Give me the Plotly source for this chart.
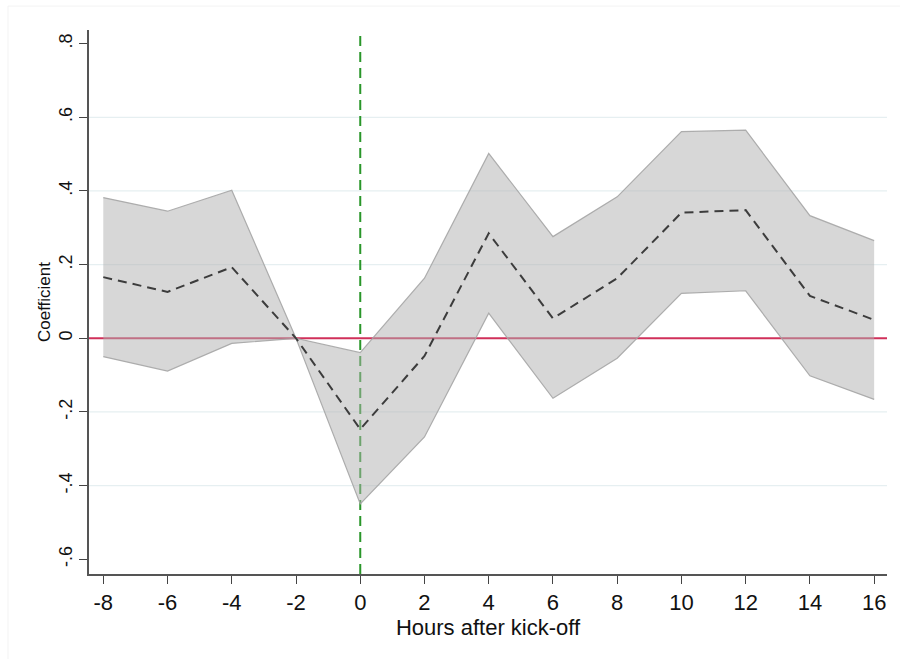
import plotly.graph_objects as go

hours = [-8, -6, -4, -2, 0, 2, 4, 6, 8, 10, 12, 14, 16]
coef = [0.166, 0.126, 0.193, 0.0, -0.247, -0.048, 0.285, 0.054, 0.163, 0.341, 0.348, 0.115, 0.050]
upper = [0.382, 0.345, 0.402, 0.0, -0.039, 0.163, 0.502, 0.276, 0.384, 0.561, 0.565, 0.333, 0.265]
lower = [-0.050, -0.089, -0.014, 0.0, -0.450, -0.268, 0.068, -0.163, -0.054, 0.122, 0.129, -0.102, -0.166]

x_ticks = [-8, -6, -4, -2, 0, 2, 4, 6, 8, 10, 12, 14, 16]
x_ticktext = ["-8", "-6", "-4", "-2", "0", "2", "4", "6", "8", "10", "12", "14", "16"]
y_ticks = [-0.6, -0.4, -0.2, 0, 0.2, 0.4, 0.6, 0.8]
y_ticktext = ["-.6", "-.4", "-.2", "0", ".2", ".4", ".6", ".8"]
grid_vals = [-0.4, -0.2, 0.2, 0.4, 0.6]

narrow = "Liberation Sans Narrow, Arial Narrow, Liberation Sans, sans-serif"

fig = go.Figure()

fig.add_trace(go.Scatter(x=hours, y=upper, mode="lines",
                         line=dict(color="rgba(165,165,165,0.9)", width=1.2),
                         showlegend=False, hoverinfo="skip"))
fig.add_trace(go.Scatter(x=hours, y=lower, mode="lines", fill="tonexty",
                         fillcolor="rgba(175,175,175,0.5)",
                         line=dict(color="rgba(165,165,165,0.9)", width=1.2),
                         showlegend=False, hoverinfo="skip"))
fig.add_trace(go.Scatter(x=hours, y=coef, mode="lines",
                         line=dict(color="#3c3c3c", width=2, dash="9px,6px"),
                         showlegend=False))

shapes = []
for g in grid_vals:
    shapes.append(dict(type="line", xref="paper", x0=0, x1=1, yref="y", y0=g, y1=g,
                       line=dict(color="#e6eff1", width=1.2), layer="below"))
shapes.append(dict(type="line", xref="paper", x0=0, x1=1, yref="y", y0=0, y1=0,
                   line=dict(color="#d0305a", width=2), layer="below"))
shapes.append(dict(type="line", xref="x", x0=0, x1=0, yref="paper", y0=0, y1=1.0,
                   line=dict(color="#2a962a", width=2, dash="10px,6px"), layer="below"))
# faint outer frame
shapes.append(dict(type="line", xref="paper", x0=-0.1015, x1=1.1, yref="paper", y0=1.044, y1=1.044,
                   line=dict(color="#f3f3f3", width=1), layer="below"))
shapes.append(dict(type="line", xref="paper", x0=-0.1015, x1=-0.1015, yref="paper", y0=-0.2, y1=1.044,
                   line=dict(color="#f3f3f3", width=1), layer="below"))

fig.update_layout(
    width=900, height=659,
    margin=dict(l=89, r=13, t=30, b=85),
    paper_bgcolor="white", plot_bgcolor="white",
    font=dict(family="Liberation Sans, Arial, sans-serif", color="#111111"),
    shapes=shapes,
    xaxis=dict(range=[-8.445, 16.4], tickvals=x_ticks, ticktext=x_ticktext,
               ticks="outside", ticklen=8,
               tickwidth=1.3, tickcolor="#444444", showgrid=False, zeroline=False,
               showline=True, linecolor="#555555", linewidth=1.5,
               tickfont=dict(size=22, family=narrow),
               title=dict(text="Hours after kick-off", font=dict(size=22, family=narrow), standoff=0)),
    yaxis=dict(range=[-0.64, 0.837], tickvals=y_ticks, ticktext=y_ticktext,
               ticks="outside", ticklen=8, tickwidth=1.3, tickcolor="#444444",
               tickangle=-90, showgrid=False, zeroline=False,
               showline=True, linecolor="#555555", linewidth=1.5,
               tickfont=dict(size=18),
               title=dict(text="Coefficient", font=dict(size=17), standoff=1)),
)

fig.write_html("out.html")
